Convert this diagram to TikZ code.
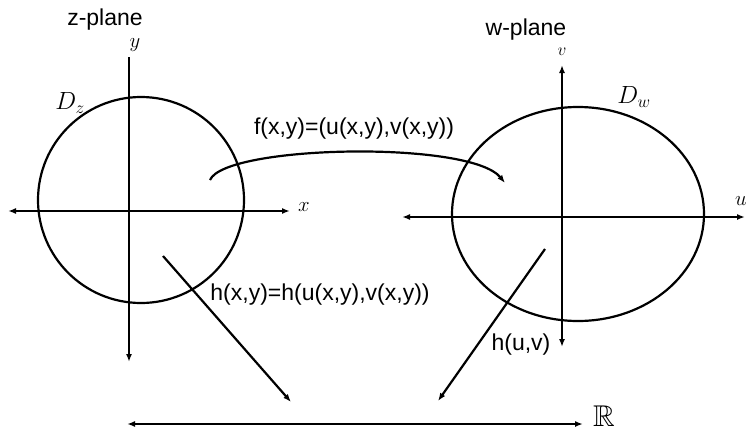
\documentclass[tikz,border=0pt]{standalone}
\usepackage{amsmath,amssymb}
\usepackage{fontspec}
\setmainfont{Liberation Sans}
\usepackage{tikz}
\usetikzlibrary{shapes.geometric, arrows.meta, positioning}

\begin{document}
\begin{tikzpicture}[
    x=1pt, y=1pt,
    line width=2.2pt,
    region/.style={
        draw=black,
        line width=2.2pt,
        inner sep=0pt
    },
    axis/.style={
        line width=2.2pt,
        {Latex[length=8pt,width=6pt]}-{Latex[length=8pt,width=6pt]}
    },
    arrow/.style={
        line width=2.2pt,
        -{Latex[length=8pt,width=6pt]}
    },
    caption/.style={
        font=\fontsize{23}{27}\selectfont,
        inner sep=1pt
    },
    hand/.style={
        font=\fontsize{22}{26}\selectfont,
        inner sep=0pt
    }
]
\useasboundingbox (0,0) rectangle (749,-431);
% Z-PLANE
\node (Dz) [region, circle, minimum size=206pt] at (141,-200) {};
\coordinate (ytop) at (129,-57);
\coordinate (ybot) at (129,-362);
\coordinate (xl) at (8,-211);
\coordinate (xr) at (290,-211);
\node (zplane) [caption] at (105,-20) {z-plane};
\node (ylab) [hand] at (135,-45) {$y$};
\node (xlab) [hand] at (304,-207) {$x$};
\node (Dzlab) [hand, font=\fontsize{26}{30}\selectfont] at (70,-103) {$D_z$};
% W-PLANE
\node (Dw) [region, ellipse, minimum width=252pt, minimum height=214pt] at (578,-214) {};
\coordinate (vtop) at (562,-65);
\coordinate (vbot) at (562,-347);
\coordinate (ul) at (402,-217);
\coordinate (ur) at (745,-217);
\node (wplane) [caption] at (526,-30) {w-plane};
\node (vlab) [hand, font=\fontsize{17}{20}\selectfont] at (562,-52) {$v$};
\node (ulab) [hand] at (741,-201) {$u$};
\node (Dwlab) [hand, font=\fontsize{26}{30}\selectfont] at (634,-97) {$D_w$};
% REAL LINE
\coordinate (rl) at (127,-424);
\coordinate (rr) at (583,-424);
\node (Rlab) [hand, font=\fontsize{30}{34}\selectfont] at (604,-416) {$\mathbb{R}$};
% MAP ENDS
\coordinate (fs) at (210,-180);
\coordinate (fe) at (505,-183);
\coordinate (hs) at (163,-256);
\coordinate (he) at (291,-402);
\coordinate (gs) at (545,-249);
\coordinate (ge) at (438,-401);
% LABELS
\node (flab) [caption] at (354,-129) {f(x,y)=(u(x,y),v(x,y))};
\node (hlab) [caption] at (320,-295) {h(x,y)=h(u(x,y),v(x,y))};
\node (huvlab) [caption] at (521,-345) {h(u,v)};
% AXES
\draw [arrow] (ytop) -- (ybot);
\draw [axis] (xl) -- (xr);
\draw [axis] (vtop) -- (vbot);
\draw [axis] (ul) -- (ur);
\draw [axis] (rl) -- (rr);
% MAPS
\draw [arrow] (fs) .. controls (225,-145) and (470,-140) .. (fe);
\draw [arrow] (hs) -- (he);
\draw [arrow] (gs) -- (ge);
\end{tikzpicture}
\end{document}
